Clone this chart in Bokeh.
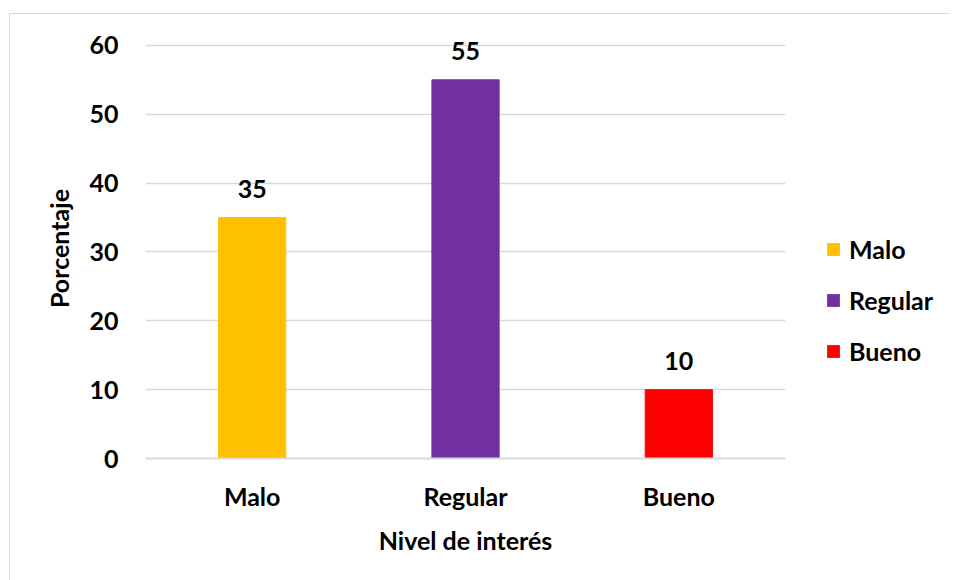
from bokeh.plotting import figure
from bokeh.layouts import row
from bokeh.models import ColumnDataSource, Legend, LegendItem, LabelSet, Range1d, FixedTicker
from bokeh.core.properties import value
from bokeh.embed import file_html
from bokeh.resources import INLINE

categories = ["Malo", "Regular", "Bueno"]
values = [35, 55, 10]
colors = ["#FFC000", "#7030A0", "#FF0000"]
y_ticks = [0, 10, 20, 30, 40, 50, 60]

FONT = "Lato"
FS = "25px"

src = ColumnDataSource(dict(cat=categories, val=values, color=colors,
                            lbl=[str(v) for v in values]))

p = figure(x_range=categories, y_range=Range1d(0, 61),
           width=780, height=566, output_backend="svg", toolbar_location=None,
           min_border_left=135, min_border_right=5, min_border_top=24,
           min_border_bottom=122)
p.outline_line_color = None
p.background_fill_color = "white"
p.border_fill_color = "white"

r = p.vbar(x="cat", top="val", width=0.315, color="color", source=src)

labels = LabelSet(x="cat", y="val", text="lbl", source=src, text_align="center",
                  text_baseline="alphabetic", y_offset=20, text_font=value(FONT),
                  text_font_style="bold", text_font_size=FS, text_color="black")
p.add_layout(labels)

p.ygrid.grid_line_color = "#D9D9D9"
p.ygrid.grid_line_width = 1.5
p.xgrid.grid_line_color = None
p.yaxis.ticker = FixedTicker(ticks=y_ticks)

for ax in (p.xaxis, p.yaxis):
    ax.major_tick_line_color = None
    ax.minor_tick_line_color = None
    ax.major_label_text_font = FONT
    ax.major_label_text_font_style = "bold"
    ax.major_label_text_font_size = FS
    ax.major_label_text_color = "black"
    ax.axis_label_text_font = FONT
    ax.axis_label_text_font_style = "bold"
    ax.axis_label_text_font_size = FS
    ax.axis_label_text_color = "black"

p.yaxis.axis_line_color = None
p.yaxis.major_label_standoff = 21
p.yaxis.axis_label = "Porcentaje"
p.yaxis.axis_label_standoff = 12
p.xaxis.axis_line_color = "#D9D9D9"
p.xaxis.axis_line_width = 2
p.xaxis.major_label_standoff = 16
p.xaxis.axis_label = "Nivel de interés"
p.xaxis.axis_label_standoff = 11

# legend panel (hidden helper renderers, only used for legend swatches)
lg = figure(width=160, height=566, x_range=Range1d(0, 1), y_range=Range1d(0, 1),
            output_backend="svg", toolbar_location=None,
            min_border_left=0, min_border_right=0, min_border_top=0, min_border_bottom=0)
lg.outline_line_color = None
lg.axis.visible = False
lg.grid.visible = False
lg.border_fill_color = "white"
items = []
for i, (cat, col) in enumerate(zip(categories, colors)):
    rr = lg.vbar(x=[i], top=[values[i]], width=1, fill_color=col, line_color=None,
                 visible=False)
    items.append(LegendItem(label=cat, renderers=[rr]))

legend = Legend(items=items, location=(35, 92), orientation="vertical",
                border_line_color=None, background_fill_alpha=0,
                inactive_fill_alpha=0,
                glyph_width=16, glyph_height=16,
                label_text_font=FONT, label_text_font_style="bold",
                label_text_font_size=FS, label_text_color="black", label_height=22,
                spacing=21, label_standoff=8, padding=0, margin=0)
lg.add_layout(legend, "center")

layout = row(p, lg, margin=(13, 0, 0, 9),
             styles={"border-top": "1px solid #D9D9D9", "border-left": "1px solid #D9D9D9"})

open("out.html", "w").write(file_html(layout, INLINE))
